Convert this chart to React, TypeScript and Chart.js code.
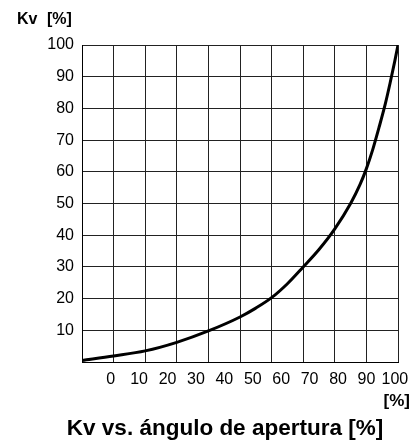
import React, { useEffect, useRef } from "react";
import { Chart, registerables } from "chart.js";

Chart.register(...registerables);

// Data
const openingPercent = [0, 10, 20, 30, 40, 50, 55, 60, 65, 70, 75, 80, 85, 88, 90, 92, 94, 96, 97.5, 99, 100];
const kvPercent = [0.5, 1.9, 3.5, 6.2, 9.8, 14.2, 17, 20.3, 24.7, 30, 35.5, 42, 50, 56, 61, 67, 74, 81.5, 88, 95, 100];
const xTickLabels = [0, 10, 20, 30, 40, 50, 60, 70, 80, 90, 100];
const gridSteps = [0, 10, 20, 30, 40, 50, 60, 70, 80, 90, 100];
const yTickLabels = [10, 20, 30, 40, 50, 60, 70, 80, 90, 100];

const yAxisTitle = ["Kv", "[%]"];
const xAxisUnit = "[%]";
const chartTitle = "Kv vs. ángulo de apertura [%]";

const FONT = "'Liberation Sans', Arial, Helvetica, sans-serif";

export default function App() {
  const ref = useRef<HTMLCanvasElement | null>(null);

  useEffect(() => {
    if (!ref.current) return;
    const textPlugin = {
      id: "texts",
      afterDraw(chart: any) {
        const ctx = chart.ctx;
        ctx.save();
        ctx.fillStyle = "#000";
        ctx.textBaseline = "alphabetic";
        ctx.font = `bold 16px ${FONT}`;
        ctx.textAlign = "left";
        ctx.fillText(yAxisTitle[0], 17, 24);
        ctx.fillText(yAxisTitle[1], 47, 24);
        ctx.font = `bold 17px ${FONT}`;
        ctx.textAlign = "right";
        ctx.fillText(xAxisUnit, 410, 405.5);
        ctx.font = `bold 22.5px ${FONT}`;
        ctx.textAlign = "center";
        ctx.fillText(chartTitle, 225, 435);
        ctx.restore();
      },
    };

    const chart = new Chart(ref.current, {
      type: "line",
      data: {
        datasets: [
          {
            data: openingPercent.map((x, i) => ({ x, y: kvPercent[i] })),
            borderColor: "#000",
            borderWidth: 3,
            pointRadius: 0,
            fill: false,
            cubicInterpolationMode: "monotone",
          },
        ],
      },
      options: {
        animation: false,
        responsive: false,
        layout: { padding: { left: 0, right: 21, top: 45, bottom: 49 } },
        plugins: {
          legend: { display: false },
          tooltip: { enabled: false },
        },
        scales: {
          x: {
            type: "linear",
            position: "bottom",
            min: 0,
            max: 100,
            afterBuildTicks: (s: any) => {
              s.ticks = gridSteps.map((v) => ({ value: v }));
            },
            afterFit: (s: any) => {
              s.height = 0;
            },
            ticks: { display: false },
            grid: { color: "#222", lineWidth: 1, drawTicks: false },
            border: { color: "#000", width: 1 },
          },
          x2: {
            type: "linear",
            position: "bottom",
            min: -10.1,
            max: 101.1,
            afterBuildTicks: (s: any) => {
              s.ticks = xTickLabels.map((v) => ({ value: v }));
            },
            afterFit: (s: any) => {
              s.height = 30;
            },
            grid: { display: false, drawTicks: false },
            border: { display: false },
            ticks: {
              color: "#000",
              font: { family: FONT, size: 16 },
              padding: 8,
              maxRotation: 0,
              autoSkip: false,
            },
          },
          y: {
            type: "linear",
            min: 0,
            max: 100,
            afterBuildTicks: (s: any) => {
              s.ticks = gridSteps.map((v) => ({ value: v }));
            },
            afterFit: (s: any) => {
              s.width = 82;
            },
            ticks: {
              color: "#000",
              font: { family: FONT, size: 16 },
              padding: 8,
              callback: (v: any) => (yTickLabels.includes(Number(v)) ? String(v) : ""),
            },
            grid: { color: "#222", lineWidth: 1, drawTicks: false },
            border: { color: "#000", width: 1 },
          },
        },
      },
      plugins: [textPlugin],
    } as any);
    return () => chart.destroy();
  }, []);

  return (
    <div style={{ position: "absolute", left: 0, top: 0, width: 419, height: 441 }}>
      <canvas ref={ref} width={419} height={441} style={{ display: "block" }} />
    </div>
  );
}
